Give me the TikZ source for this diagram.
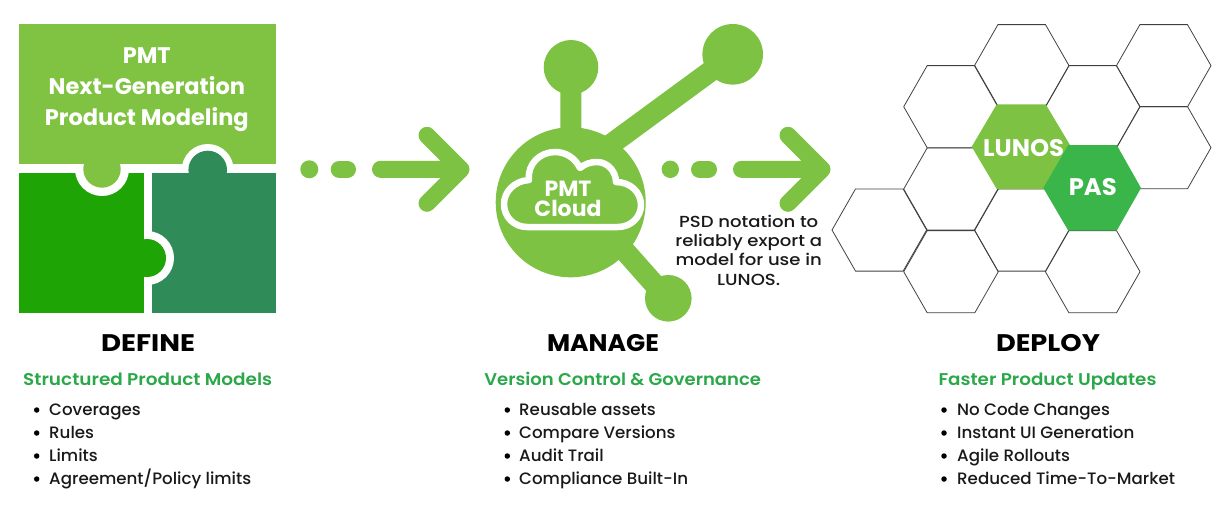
\documentclass[tikz,border=0pt]{standalone}
\usepackage{graphicx}
\usepackage{fontspec}
\setmainfont{Poppins}
\newfontfamily\med{Poppins Medium}[FakeStretch=1.01]
\newfontfamily\psdf{Poppins Medium}[FakeStretch=1.13]
\newfontfamily\sem{Poppins SemiBold}
\newfontfamily\bld{Poppins Bold}
\definecolor{leaf}{HTML}{80C342}
\definecolor{grass}{HTML}{1EA505}
\definecolor{pine}{HTML}{2F8B58}
\definecolor{hub}{HTML}{7DC242}
\definecolor{pasg}{HTML}{39B54A}
\definecolor{headg}{HTML}{2BA84A}
\newcommand{\fitw}[2]{\resizebox{#1pt}{\height}{#2}}
\tikzset{
 hexcell/.pic={\draw[line width=0.8pt,draw=black!75] (-47.3,0)--(-23.8,-41.1)--(23.8,-41.1)--(47.3,0)--(23.8,41.1)--(-23.8,41.1)--cycle;},
 title/.style={font=\bld\fontsize{24}{24}\selectfont,anchor=base,text=black,inner sep=0},
 sub/.style={font=\sem\fontsize{17}{17}\selectfont,anchor=base,text=headg,inner sep=0},
 item/.style={font=\med\fontsize{16.5}{16.5}\selectfont,anchor=base west,text=black!90,inner sep=0},
 dotb/.style={circle,fill=black,inner sep=0,minimum size=5.5pt},
 wtext/.style={text=white,font=\bld\fontsize{22.5}{31.2}\selectfont,align=center,inner sep=0},
}
\begin{document}
\begin{tikzpicture}[x=1pt,y=-1pt]
\useasboundingbox (0,0) rectangle (1230,504);
% puzzle
\fill[grass] (18.5,172.5) rectangle (144,313);
\fill[pine] (151.5,172.5) rectangle (276,313);
\fill[white] (102,169) circle (27);
\begin{scope}\clip (144,200) rectangle (200,320);\fill[white] (147,258) circle (27);\end{scope}
\fill[leaf] (18.5,24) rectangle (276,164);
\begin{scope}\clip (170,130) rectangle (250,172.5);\fill[white] (207.7,170) circle (26);\end{scope}
\begin{scope}\clip (70,160) rectangle (130,200);\fill[leaf] (102,169) circle (18.7);\end{scope}
\begin{scope}\clip (170,130) rectangle (250,173);\fill[pine] (207.7,170) circle (19.3);\end{scope}
\begin{scope}\clip (143.5,230) rectangle (180,290);\fill[grass] (147,258) circle (19);\end{scope}
\node[wtext] (pt) at (146.8,89.5) {PMT\\Next-Generation\\Product Modeling};
% arrows
\fill[hub] (309.3,169.3) circle (9);
\draw[hub,line width=17pt,line cap=round] (339.2,169.3)--(347.5,169.3);
\draw[hub,line width=17pt,line cap=round,line join=round] (380.5,169.3)--(461,169.3) (427,135.3)--(461,169.3)--(427,203.3);
\fill[hub] (670.3,169.3) circle (8.7);
\draw[hub,line width=17pt,line cap=round] (699.5,169.3)--(708.5,169.3);
\draw[hub,line width=17pt,line cap=round,line join=round] (741.5,169.3)--(822,169.3) (788,135.3)--(822,169.3)--(788,203.3);
% hub
\fill[hub] (570.7,202.3) circle (75) (571,67.3) circle (27.3) (732.7,54.3) circle (30.3) (668.3,298.3) circle (23.3);
\draw[hub,line width=21pt] (571,67.3)--(570.7,202.3) (732.7,55)--(580,167);
\draw[hub,line width=21pt] (668.3,300)--(600,223);
% cloud
\draw[white,line width=6.5pt,line join=round] (527,227) .. controls (514,227) and (504,217) .. (504,204) .. controls (504,192) and (514,181) .. (529,180) .. controls (527,164) and (540,152) .. (555,152) .. controls (566,152) and (575,158) .. (580,168) .. controls (585,164) and (590,162) .. (597,162) .. controls (608,162) and (616,172) .. (616,182) .. controls (630,182) and (641,192) .. (641,205) .. controls (641,217) and (631,227) .. (618,227) -- cycle;
\node[text=white,font=\bld\fontsize{22}{20}\selectfont,align=center,inner sep=0] (pc) at (568,199) {PMT\\Cloud};
\node[font=\psdf\fontsize{16}{19.3}\selectfont,align=center,text=black!90,inner sep=0] (psd) at (748.7,250) {PSD notation to\\reliably export a\\model for use in\\LUNOS.};
% hexes
\foreach \x/\y in {1021.7/65.7,1163.7/65.7,951/106.7,1092.7/106.7,1163.7/147.7,951/189,879.3/230,1021.7/230,951/271.7,1092.7/271.7}
 \pic at (\x,\y) {hexcell};
\fill[hub] (971.7,146.7)--(996.7,104.3)--(1045.7,104.3)--(1071,146.7)--(1045.7,189)--(996.7,189)--cycle;
\fill[pasg] (1043.3,188)--(1068.3,145)--(1116.7,145)--(1141,188)--(1116.7,230.7)--(1068.3,230.7)--cycle;
\node[text=white,font=\bld\fontsize{24}{24}\selectfont,inner sep=0] (lu) at (1023.6,147.7) {\fitw{81}{LUNOS}};
\node[text=white,font=\bld\fontsize{24}{24}\selectfont,inner sep=0] (pa) at (1092.8,187) {\fitw{48}{PAS}};
% columns
\node[title] (d1) at (148,351) {\fitw{94}{DEFINE}};
\node[sub] (s1) at (147.7,385) {\fitw{249}{Structured Product Models}};
\node[title] (d2) at (603,351) {\fitw{112}{MANAGE}};
\node[sub] (s2) at (622.7,385) {\fitw{276.7}{Version Control \& Governance}};
\node[title] (d3) at (1048,351) {\fitw{104}{DEPLOY}};
\node[sub] (s3) at (1047.5,385) {\fitw{218}{Faster Product Updates}};
\foreach \x/\tx/\list in {36.7/49/{Coverages,Rules,Limits,Agreement/Policy limits},507.3/519/{Reusable assets,Compare Versions,Audit Trail,Compliance Built-In},944/957/{No Code Changes,Instant UI Generation,Agile Rollouts,Reduced Time-To-Market}}{
 \foreach \t [count=\i] in \list {
  \node[dotb] (b\x-\i) at (\x,387+23*\i) {};
  \node[item] (t\x-\i) at (\tx,392+23*\i) {\t};
 }
}
\end{tikzpicture}
\end{document}
